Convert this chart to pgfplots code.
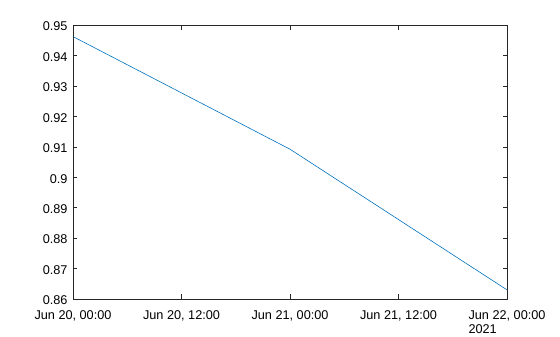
\documentclass[border=0pt]{standalone}
\usepackage{fontspec}
\setmainfont{Liberation Sans}
\usepackage{pgfplots}
\pgfplotsset{compat=1.18}
\definecolor{mblue}{rgb}{0,0.447,0.741}
\definecolor{axgray}{rgb}{0.15,0.15,0.15}
\begin{document}
\begin{tikzpicture}
\begin{axis}[
  at={(0,0)}, anchor=south west,
  scale only axis,
  width=434bp, height=274bp,
  xmin=0, xmax=2, ymin=0.86, ymax=0.95,
  xtick={0,0.5,1,1.5,2},
  xticklabels={{Jun 20, 00:00},{Jun 20, 12:00},{Jun 21, 00:00},{Jun 21, 12:00},{Jun 22, 00:00\\2021}},
  xticklabel style={align=left, font=\fontsize{12.7bp}{14bp}\selectfont, text=black, inner sep=1bp, yshift=-10bp},
  ytick={0.86,0.87,0.88,0.89,0.9,0.91,0.92,0.93,0.94,0.95},
  yticklabel style={font=\fontsize{12.7bp}{14bp}\selectfont, text=black, inner sep=1bp, xshift=-4.3bp, yshift=-1.5bp, /pgf/number format/fixed, /pgf/number format/precision=2},
  /pgf/number format/assume math mode=true,
  tick align=inside,
  major tick length=4.5bp,
  axis line style={axgray, line width=0.6pt},
  every tick/.style={axgray, line width=0.5pt},
  tick pos=both,
  scaled y ticks=false,
]
\addplot[mblue, line width=0.6pt] coordinates {(0,0.9462) (1,0.9092) (2,0.8630)};
\end{axis}
\path (-73bp,-38bp) rectangle (487bp,299bp);
\end{tikzpicture}
\end{document}
